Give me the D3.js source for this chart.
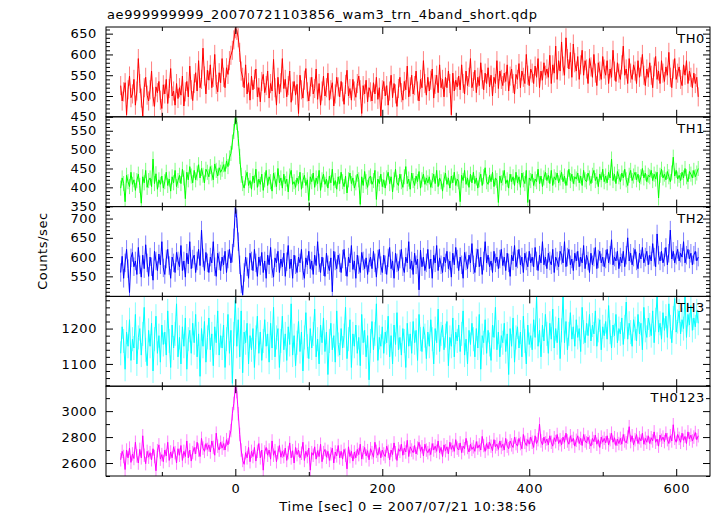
<!DOCTYPE html>
<html><head><meta charset="utf-8">
<script src="https://cdn.jsdelivr.net/npm/d3@7"></script>
<style>
body{margin:0;background:#fff}
text{font-family:"DejaVu Sans",sans-serif;font-size:13px;letter-spacing:0.6px;fill:#000}
</style>
</head><body><svg id="c" width="717" height="516"></svg>
<script>
const titleText = "ae999999999_20070721103856_wam3_trn_4band_short.qdp";
const xLabelText = "Time [sec] 0 = 2007/07/21 10:38:56";
const yLabelText = "Counts/sec";
const bandNames = ["TH0","TH1","TH2","TH3","TH0123"];
const bandColors = ["#ff0000","#00ff00","#0000ff","#00ffff","#ff00ff"];
const tStart = -156, binSec = 2;

const th0 = [
525,488,510,532,455,515,548,496,505,540,
478,512,590,530,495,452,520,545,502,488,
515,560,498,475,522,508,535,490,470,527,
505,540,482,518,566,500,512,478,530,494,
520,502,548,476,510,535,498,572,515,489,
530,556,512,585,520,540,615,548,505,562,
538,575,520,545,600,528,510,556,532,590,
545,520,568,552,585,598,610,635,662,658,
640,605,560,545,520,575,505,532,490,548,
515,540,565,498,520,486,535,552,508,525,
560,495,530,512,588,520,478,545,505,532,
590,518,540,498,525,560,485,512,535,502,
528,458,550,515,495,538,566,510,488,522,
545,505,518,565,492,530,478,512,548,500,
520,555,490,515,532,476,505,545,522,498,
535,510,480,528,562,500,518,490,540,512,
497,530,548,515,458,525,505,538,486,520,
510,488,532,505,545,492,520,452,515,535,
500,525,478,512,550,496,530,505,475,518,
545,508,490,535,515,572,498,522,550,505,
525,560,512,488,540,520,585,530,502,545,
512,538,565,495,528,550,508,575,520,540,
498,545,520,560,530,455,555,512,538,522,
548,515,575,530,505,560,525,545,590,520,
535,562,508,545,525,580,540,515,555,530,
568,522,550,500,545,530,585,518,560,540,
525,555,535,575,512,548,565,530,505,552,
540,578,520,560,545,530,600,550,525,565,
555,530,572,545,590,520,560,538,580,550,
565,545,598,530,575,555,620,540,585,560,
630,572,550,640,590,565,605,545,625,580,
560,595,540,575,610,550,585,565,530,590,
570,545,600,555,525,580,560,540,595,565,
550,585,530,565,545,610,560,535,580,555,
540,575,620,550,565,530,590,555,540,575,
560,530,585,545,570,600,550,525,565,545,
580,550,520,570,595,540,560,530,585,555,
535,570,550,605,545,520,565,590,540,555,
570,540,525,575,550,585,530,560,545,520,
555,530,545,498];

const th1 = [
398,425,410,362,432,415,402,440,408,420,
392,418,435,405,358,428,412,445,400,418,
425,402,475,410,436,395,420,408,430,398,
415,440,405,422,390,428,412,445,402,418,
432,410,448,425,370,440,420,455,430,412,
445,420,438,460,425,450,432,412,448,440,
428,455,438,420,462,445,430,452,440,448,
460,442,470,455,478,490,520,548,585,572,
530,482,432,410,398,425,440,405,418,395,
430,412,448,400,422,408,435,392,420,445,
405,428,415,390,438,420,402,450,412,425,
398,435,410,422,388,430,445,408,415,400,
425,410,440,395,418,432,405,420,365,428,
415,438,400,425,410,445,392,420,435,408,
422,398,430,412,448,405,418,395,428,410,
440,415,402,430,385,420,438,410,425,398,
412,435,420,355,428,405,442,415,400,425,
430,408,418,445,368,422,410,435,402,420,
398,425,440,410,428,388,420,448,412,405,
435,415,400,428,455,410,422,395,438,418,
405,430,415,442,398,420,435,408,425,412,
428,400,418,435,410,445,402,425,415,390,
420,438,408,425,398,430,412,440,405,422,
415,362,432,418,445,408,425,400,435,412,
440,410,425,398,420,435,405,428,452,415,
408,432,415,440,402,425,418,360,430,412,
425,445,410,420,398,435,415,428,405,440,
412,428,400,438,420,410,445,360,425,418,
435,405,422,415,448,410,430,402,425,440,
418,432,410,445,405,428,420,438,412,425,
440,415,430,405,425,448,418,435,410,428,
422,438,412,430,405,445,420,415,438,425,
410,432,445,418,428,402,435,420,448,415,
430,412,440,425,475,418,435,410,442,428,
415,438,425,448,420,405,432,445,418,430,
440,420,435,412,428,450,425,438,415,432,
428,445,418,435,422,440,372,432,448,425,
435,420,442,428,415,438,480,430,445,422,
432,418,440,425,450,428,415,442,435,425,
445,428,438,450];

const th2 = [
560,602,545,585,620,570,508,598,612,575,
590,555,625,580,548,605,570,632,585,550,
600,575,540,615,590,565,608,580,640,572,
555,595,620,578,545,600,585,560,612,590,
575,630,565,590,548,610,582,640,570,595,
605,560,590,620,578,670,598,565,612,585,
560,600,585,640,575,550,610,590,565,600,
580,615,560,595,620,585,610,650,728,700,
640,580,530,502,560,600,575,545,610,590,
565,620,585,550,600,578,612,560,590,545,
605,580,625,570,548,598,585,615,560,595,
575,610,550,588,630,570,595,545,605,580,
560,600,585,620,565,545,598,580,615,570,
590,555,605,578,640,585,560,600,575,550,
610,580,565,598,510,615,590,570,605,585,
560,595,620,575,550,600,585,630,568,590,
545,605,580,560,612,590,570,598,555,585,
600,570,615,585,548,595,620,578,560,605,
580,555,598,625,570,590,545,610,585,565,
595,620,575,560,600,585,640,570,590,555,
610,580,595,515,618,575,600,565,585,620,
570,595,545,605,585,630,565,598,580,560,
600,585,615,570,590,548,610,580,625,595,
565,600,580,545,612,590,570,605,585,635,
580,560,598,620,575,600,555,590,640,585,
605,575,590,560,615,585,600,570,595,620,
578,600,565,610,585,550,605,590,630,575,
595,620,580,600,560,610,590,575,615,585,
600,575,625,590,565,605,585,640,580,600,
570,610,590,580,620,560,600,590,575,615,
605,585,640,575,600,620,580,595,565,610,
590,615,575,600,585,630,570,605,590,560,
610,580,600,625,570,595,615,585,600,575,
595,620,585,605,645,580,600,590,615,570,
600,585,615,575,605,650,590,610,580,600,
620,590,570,610,595,625,585,600,615,580,
605,590,635,600,575,660,605,590,615,585,
600,625,580,610,670,595,615,585,605,620,
590,610,600,640,585,605,620,595,610,580,
605,615,590,600];

const th3 = [
1130,1205,1165,1085,1190,1150,1225,1110,1170,1145,
1240,1100,1175,1200,1125,1185,1260,1140,1095,1195,
1150,1215,1080,1170,1235,1130,1180,1105,1210,1155,
1190,1125,1250,1165,1090,1210,1145,1185,1270,1120,
1175,1100,1205,1150,1230,1085,1170,1195,1130,1215,
1160,1240,1120,1185,1065,1200,1150,1220,1105,1175,
1230,1140,1185,1095,1205,1160,1250,1125,1180,1145,
1210,1090,1170,1240,1130,1195,1045,1185,1280,1150,
1225,1120,1250,1075,1190,1160,1215,1100,1180,1140,
1200,1090,1175,1235,1130,1190,1110,1165,1225,1150,
1185,1105,1215,1145,1260,1120,1175,1200,1090,1165,
1235,1140,1185,1110,1205,1155,1270,1125,1180,1095,
1160,1220,1135,1190,1080,1175,1245,1150,1115,1200,
1145,1185,1255,1120,1170,1100,1210,1160,1230,1135,
1190,1070,1165,1215,1140,1180,1105,1250,1155,1125,
1200,1145,1180,1260,1115,1170,1225,1090,1185,1150,
1210,1130,1175,1095,1240,1160,1195,1120,1180,1055,
1165,1220,1140,1185,1270,1110,1175,1150,1205,1130,
1190,1160,1235,1120,1180,1100,1210,1155,1245,1140,
1175,1125,1200,1165,1090,1215,1150,1185,1130,1220,
1160,1195,1110,1240,1170,1135,1205,1180,1115,1190,
1150,1225,1170,1100,1200,1160,1255,1135,1185,1210,
1140,1180,1220,1095,1175,1150,1230,1120,1190,1165,
1210,1135,1185,1250,1125,1170,1100,1195,1155,1215,
1170,1120,1200,1145,1240,1085,1180,1160,1225,1130,
1195,1155,1110,1210,1175,1260,1140,1190,1120,1180,
1160,1215,1135,1185,1070,1200,1150,1230,1105,1175,
1205,1145,1190,1120,1235,1165,1100,1210,1155,1180,
1140,1225,1175,1291,1150,1195,1120,1210,1165,1240,
1185,1130,1215,1170,1255,1145,1200,1160,1230,1115,
1195,1291,1160,1220,1140,1185,1245,1170,1205,1150,
1225,1175,1200,1135,1260,1190,1160,1215,1180,1240,
1165,1210,1185,1250,1150,1195,1225,1140,1205,1180,
1220,1170,1265,1190,1145,1210,1180,1240,1160,1200,
1185,1230,1155,1205,1275,1170,1215,1190,1150,1225,
1200,1165,1240,1185,1215,1140,1260,1195,1175,1230,
1210,1180,1250,1160,1225,1291,1190,1215,1170,1245,
1195,1235,1175,1270,1205,1160,1230,1285,1190,1220,
1250,1185,1225,1200,1291,1175,1240,1210,1265,1195,
1230,1205,1250,1215];

const th0123 = [
2625,2690,2650,2550,2700,2640,2715,2605,2670,2635,
2760,2655,2600,2705,2640,2810,2660,2595,2690,2645,
2680,2625,2710,2650,2540,2695,2740,2630,2665,2610,
2700,2655,2760,2620,2685,2640,2725,2680,2600,2710,
2660,2735,2620,2690,2650,2770,2640,2700,2615,2680,
2720,2670,2760,2700,2650,2790,2715,2690,2750,2705,
2740,2685,2770,2720,2660,2830,2730,2700,2760,2715,
2750,2700,2780,2740,2800,2850,2980,3060,3190,3150,
2980,2820,2700,2620,2590,2680,2640,2720,2610,2690,
2650,2720,2615,2690,2750,2640,2700,2545,2685,2720,
2660,2700,2630,2770,2660,2695,2610,2680,2735,2645,
2690,2650,2715,2620,2680,2755,2640,2695,2600,2720,
2665,2700,2640,2675,2760,2620,2690,2650,2715,2545,
2680,2660,2725,2630,2695,2650,2745,2610,2680,2705,
2645,2690,2620,2670,2715,2600,2685,2655,2735,2640,
2690,2630,2705,2660,2555,2725,2650,2690,2615,2685,
2640,2705,2665,2745,2630,2680,2720,2655,2695,2625,
2710,2680,2645,2760,2690,2660,2720,2640,2700,2670,
2650,2730,2690,2625,2700,2665,2755,2680,2620,2710,
2690,2745,2660,2715,2685,2775,2650,2725,2700,2680,
2735,2670,2715,2760,2690,2725,2655,2745,2700,2680,
2710,2665,2750,2700,2730,2690,2770,2680,2720,2650,
2740,2695,2725,2670,2760,2705,2735,2690,2780,2715,
2700,2755,2680,2730,2710,2790,2720,2685,2745,2705,
2725,2690,2765,2715,2740,2700,2805,2735,2690,2750,
2710,2760,2730,2695,2780,2725,2745,2705,2770,2720,
2745,2700,2790,2730,2710,2770,2740,2720,2800,2750,
2730,2790,2750,2710,2820,2760,2735,2780,2745,2800,
2760,2720,2810,2750,2780,2900,2770,2740,2800,2755,
2785,2740,2810,2760,2730,2795,2765,2820,2750,2780,
2740,2800,2760,2830,2770,2745,2810,2765,2790,2730,
2775,2810,2750,2790,2735,2820,2770,2755,2800,2760,
2730,2790,2765,2815,2745,2780,2720,2800,2760,2790,
2755,2810,2740,2780,2830,2760,2795,2735,2785,2750,
2790,2745,2820,2770,2755,2800,2880,2765,2810,2740,
2780,2820,2750,2795,2770,2830,2745,2790,2760,2810,
2750,2795,2770,2840,2760,2785,2730,2815,2775,2800,
2765,2830,2780,2750,2810,2770,2895,2790,2760,2820,
2790,2760,2830,2775,2805,2750,2840,2785,2815,2770,
2800,2835,2780,2810];

const bandErrors = [23, 20, 24, 34, 52];
const yDomains = [[450,666],[349,587],[498,731],[1037,1291],[2500,3192]];
const yMajorTicks = [[450,500,550,600,650],[350,400,450,500,550],[550,600,650,700],[1100,1200],[2600,2800,3000]];
const yMinorStep = [10,10,10,20,100];
const xDomain = [-176, 646];
const xMajorTicks = [0,200,400,600];
const xMinorTicks = [-100,100,300,500];

const series = [th0, th1, th2, th3, th0123];

const svg = d3.select("#c");
const plotL = 106, plotR = 710, plotT = 27, plotB = 476;
const nP = series.length;
const panelH = (plotB - plotT) / nP;
const x = d3.scaleLinear().domain(xDomain).range([plotL, plotR]);
const defs = svg.append("defs");
const fmt = d3.format("d");

series.forEach((vals, p) => {
  const top = plotT + p * panelH, bot = top + panelH;
  const y = d3.scaleLinear().domain(yDomains[p]).range([bot, top]);
  const color = bandColors[p];
  defs.append("clipPath").attr("id", "clip" + p)
    .append("rect").attr("x", plotL).attr("y", top).attr("width", plotR - plotL).attr("height", panelH);
  const data = vals.map((v, i) => ({t: tStart + i * binSec, v}));
  const dg = svg.append("g").attr("clip-path", `url(#clip${p})`);
  dg.append("g").selectAll("line").data(data).join("line")
    .attr("x1", d => x(d.t)).attr("x2", d => x(d.t))
    .attr("y1", d => y(d.v - bandErrors[p])).attr("y2", d => y(d.v + bandErrors[p]))
    .attr("stroke", color).attr("stroke-opacity", 0.5).attr("stroke-width", 1);
  dg.append("path").datum(data)
    .attr("d", d3.line().x(d => x(d.t)).y(d => y(d.v)))
    .attr("fill", "none").attr("stroke", color).attr("stroke-width", 1);

  const [d0, d1] = yDomains[p];
  const st = yMinorStep[p];
  const minor = d3.range(Math.ceil(d0 / st) * st, d1 + 0.001, st).filter(v => !yMajorTicks[p].includes(v));
  const axG = svg.append("g");
  axG.append("g").attr("transform", `translate(${plotL},0)`)
    .call(d3.axisLeft(y).tickValues(yMajorTicks[p]).tickSize(-7).tickPadding(9).tickFormat(fmt));
  axG.append("g").attr("transform", `translate(${plotL},0)`)
    .call(d3.axisLeft(y).tickValues(minor).tickSize(-4).tickFormat(""));
  axG.append("g").attr("transform", `translate(${plotR},0)`)
    .call(d3.axisRight(y).tickValues(yMajorTicks[p]).tickSize(-7).tickFormat(""));
  axG.append("g").attr("transform", `translate(${plotR},0)`)
    .call(d3.axisRight(y).tickValues(minor).tickSize(-4).tickFormat(""));
  axG.append("g").attr("transform", `translate(0,${top})`)
    .call(d3.axisTop(x).tickValues(xMajorTicks).tickSize(-7).tickFormat(""));
  axG.append("g").attr("transform", `translate(0,${top})`)
    .call(d3.axisTop(x).tickValues(xMinorTicks).tickSize(-4).tickFormat(""));
  axG.append("g").attr("transform", `translate(0,${bot})`)
    .call(d3.axisBottom(x).tickValues(xMajorTicks).tickSize(-7).tickPadding(8)
      .tickFormat(p === nP - 1 ? fmt : ""));
  axG.append("g").attr("transform", `translate(0,${bot})`)
    .call(d3.axisBottom(x).tickValues(xMinorTicks).tickSize(-4).tickFormat(""));
  axG.selectAll(".domain").remove();
  axG.selectAll(".tick line").attr("stroke", "#000");
  axG.selectAll(".tick text").attr("font-family", null).attr("font-size", null);

  svg.append("rect").attr("x", plotL).attr("y", top).attr("width", plotR - plotL).attr("height", panelH)
    .attr("fill", "none").attr("stroke", "#000").attr("stroke-width", 1);

  svg.append("text").attr("x", 705).attr("y", top + 16).attr("text-anchor", "end").text(bandNames[p]);
});

svg.append("text").attr("x", 107).attr("y", 19).text(titleText);
svg.append("text").attr("x", 408).attr("y", 511).attr("text-anchor", "middle").text(xLabelText);
svg.append("text").attr("transform", "translate(47,251) rotate(-90)").attr("text-anchor", "middle").text(yLabelText);
</script>
</body></html>
